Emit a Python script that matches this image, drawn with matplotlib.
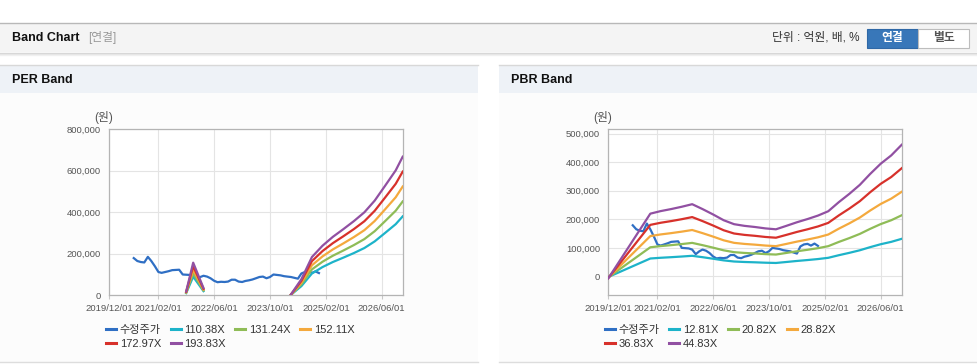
import numpy as np
import pandas as pd
import matplotlib
matplotlib.use('Agg')
import matplotlib.pyplot as plt
import matplotlib.dates as mdates
from matplotlib.patches import Rectangle
from matplotlib.ticker import FuncFormatter

plt.rcParams['font.family'] = ['Liberation Sans', 'Noto Sans CJK KR', 'DejaVu Sans']

# adjusted share price (수정주가), monthly from 2020/07
price_start = '2020-07-01'
price = [179000, 165000, 160000, 158000, 185000, 165000, 140000, 112000, 108000,
         112000, 116000, 121000, 122000, 123000, 100000, 99000, 98000, 94000,
         78000, 88000, 94000, 90000, 82000, 70000, 63000, 65000, 64000, 66000,
         75000, 75000, 66000, 64000, 69000, 72000, 76000, 82000, 88000, 90000,
         82000, 88000, 100000, 98000, 96000, 92000, 90000, 88000, 84000, 80000,
         105000, 112000, 114000, 108000, 115000, 107000]

# PER band: EPS per date, multiples from the legend
per_dates = ['2021-10-01', '2021-12-01', '2022-03-01', '2023-01-01',
             '2024-04-01', '2024-07-01', '2024-10-01', '2025-01-01',
             '2025-04-01', '2025-07-01', '2025-10-01', '2026-01-01',
             '2026-04-01', '2026-07-01', '2026-10-01', '2026-12-01']
per_eps = [95, 810, 180, np.nan, 20, 400, 950, 1230, 1450, 1640, 1840, 2060,
           2350, 2720, 3100, 3440]
per_multiples = [110.38, 131.24, 152.11, 172.97, 193.83]

# PBR band: BPS per date
pbr_dates = ['2019-12-01', '2020-12-01', '2021-03-01', '2021-06-01',
             '2021-09-01', '2021-12-01', '2022-03-01', '2022-06-01',
             '2022-09-01', '2022-12-01', '2023-03-01', '2023-06-01',
             '2023-09-01', '2023-12-01', '2024-03-01', '2024-06-01',
             '2024-09-01', '2024-12-01', '2025-03-01', '2025-06-01',
             '2025-09-01', '2025-12-01', '2026-03-01', '2026-06-01',
             '2026-09-01', '2026-12-01']
pbr_bps = [-150, 4900, 5100, 5260, 5440, 5640, 5260, 4840, 4390, 4080, 3950,
           3860, 3750, 3680, 3950, 4230, 4480, 4750, 5090, 5800, 6450, 7150,
           8000, 8800, 9450, 10280]
pbr_multiples = [12.81, 20.82, 28.82, 36.83, 44.83]

xtick_dates = ['2019-12-01', '2021-02-01', '2022-06-01', '2023-10-01',
               '2025-02-01', '2026-06-01']

price_color = '#2f6fc4'
band_colors = ['#1db3c9', '#8fbc57', '#f4a93d', '#d7312b', '#9150a2']

W, H = 978, 364


def px_rect(x0, y0, x1, y1):
    return [x0 / W, 1 - y1 / H, (x1 - x0) / W, (y1 - y0) / H]


def draw_band(ax, dates, base, multiples, yticks, ylim, legend_x):
    price_dates = pd.date_range(price_start, periods=len(price), freq='MS')
    ax.plot(price_dates, price, color=price_color, lw=1.6, zorder=2,
            label='수정주가')
    d = pd.to_datetime(dates)
    for m, c in zip(multiples, band_colors):
        ax.plot(d, np.array(base) * m, color=c, lw=1.6, zorder=3,
                label='%.2fX' % m)

    ax.set_xlim(pd.Timestamp('2019-12-01'), pd.Timestamp('2026-12-01'))
    ax.set_ylim(*ylim)
    ax.set_yticks(yticks)
    ax.yaxis.set_major_formatter(FuncFormatter(lambda v, p: '{:,.0f}'.format(v)))
    ax.set_xticks(pd.to_datetime(xtick_dates))
    ax.xaxis.set_major_formatter(mdates.DateFormatter('%Y/%m/%d'))
    ax.grid(True, color='#e4e4e4', lw=0.8)
    ax.set_axisbelow(True)
    ax.set_facecolor('white')
    for s in ax.spines.values():
        s.set_color('#b4b4b4')
        s.set_linewidth(0.9)
    ax.tick_params(axis='x', length=3, color='#c8c8c8', labelsize=6.8,
                   labelcolor='#555555', pad=3)
    ax.tick_params(axis='y', length=0, labelsize=6.8, labelcolor='#555555',
                   pad=6)
    ax.text(-0.02, 1.03, '(원)', transform=ax.transAxes, fontsize=8.5,
            color='#555555', ha='center', va='bottom')

    h, l = ax.get_legend_handles_labels()
    order = [0, 4, 1, 5, 2, 3]
    leg = ax.figure.legend([h[i] for i in order], [l[i] for i in order],
                           loc='upper left',
                           bbox_to_anchor=(legend_x / W, 1 - 325 / H),
                           ncol=4, frameon=False, fontsize=8,
                           handlelength=0.9, handletextpad=0.35,
                           columnspacing=0.85, labelspacing=0.33,
                           borderpad=0, borderaxespad=0)
    for t in leg.get_texts():
        t.set_color('#333333')
    for ln in leg.get_lines():
        ln.set_linewidth(2.2)


fig = plt.figure(figsize=(W / 100, H / 100), dpi=100)
fig.patch.set_facecolor('white')

bg = fig.add_axes([0, 0, 1, 1])
bg.set_xlim(0, W)
bg.set_ylim(H, 0)
bg.axis('off')

# page header
bg.add_patch(Rectangle((0, 23), W, 29, fc='#f4f4f4', ec='none'))
bg.plot([0, W], [22.5, 22.5], color='#b8b8b8', lw=1)
for i, c in enumerate(['#d4d4d4', '#e4e4e4', '#f0f0f0']):
    bg.plot([0, W], [52.5 + i, 52.5 + i], color=c, lw=1)
bg.text(12, 38, 'Band Chart', fontsize=9, fontweight='bold', color='#111111',
        va='center')
bg.text(88, 38, '[연결]', fontsize=8.5, color='#999999', va='center')
bg.text(859, 38, '단위 : 억원, 배, %', fontsize=8.5, color='#333333',
        va='center', ha='right')
bg.add_patch(Rectangle((867, 28.5), 51, 19, fc='#3877b9', ec='#2f68a6', lw=0.8))
bg.add_patch(Rectangle((918, 28.5), 51, 19, fc='white', ec='#bdbdbd', lw=0.8))
bg.text(892.5, 38, '연결', fontsize=8.5, fontweight='bold', color='white',
        ha='center', va='center')
bg.text(943.5, 38, '별도', fontsize=8.5, fontweight='bold', color='#555555',
        ha='center', va='center')

# panels
for x0, x1, title in [(0, 478, 'PER Band'), (499, 978, 'PBR Band')]:
    bg.add_patch(Rectangle((x0, 64.5), x1 - x0, 28, fc='#eef2f7', ec='none'))
    bg.plot([x0, x1], [64.5, 64.5], color='#d8d8d8', lw=1)
    bg.add_patch(Rectangle((x0, 92.5), x1 - x0, 269, fc='#fcfcfc', ec='none'))
    bg.plot([x0, x1], [362, 362], color='#dddddd', lw=1)
    bg.text(x0 + 12, 80, title, fontsize=9, fontweight='bold', color='#111111',
            va='center')

ax1 = fig.add_axes(px_rect(109.3, 129, 402.7, 295.3))
draw_band(ax1, per_dates, per_eps, per_multiples,
          [0, 200000, 400000, 600000, 800000], (0, 800000), 106)

ax2 = fig.add_axes(px_rect(608.3, 129, 901.7, 295.3))
draw_band(ax2, pbr_dates, pbr_bps, pbr_multiples,
          [0, 100000, 200000, 300000, 400000, 500000], (-66000, 516000), 605)

fig.savefig('out.png', dpi=100, facecolor=fig.get_facecolor())
